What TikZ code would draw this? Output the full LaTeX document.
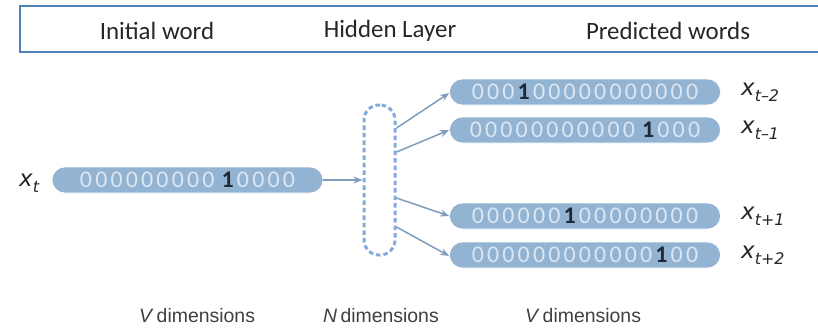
\documentclass[tikz,border=0pt]{standalone}
\usepackage{fontspec}
\setmainfont{Carlito}
\newfontfamily\labfont{Liberation Sans}
\newfontfamily\xfont{DejaVu Sans}
\usetikzlibrary{arrows.meta}
\definecolor{hdrline}{HTML}{4F81BD}
\definecolor{pillfill}{HTML}{93B3D3}
\definecolor{bitlight}{HTML}{DCE6F1}
\definecolor{bitdark}{HTML}{1E2A38}
\definecolor{arrcol}{HTML}{7F9DBB}
\definecolor{hidcol}{HTML}{82ABDB}
\definecolor{txtdark}{HTML}{262626}
\definecolor{txtgray}{HTML}{404040}
\newlength\bitw \setlength\bitw{15.3bp}
\makeatletter
\def\bitsrun#1{\ifx#1\@nil\else\bit@one#1\expandafter\bitsrun\fi}
\def\bit@one#1{\if#1s\hspace{4bp}\else\makebox[\bitw]{\if#11\color{bitdark}\bfseries\else\color{bitlight}\fi#1}\fi}
\newcommand\bits[1]{\bitsrun#1\@nil}
\makeatother
\newcommand\xlab[1]{{\xfont\itshape\fontsize{23}{23}\selectfont x}\raisebox{-5.5bp}{\xfont\itshape\fontsize{16}{16}\selectfont #1}}
\begin{document}
\begin{tikzpicture}[x=1bp,y=-1bp,
  pill/.style={fill=pillfill,draw=white,line width=0.6bp,rounded corners=13bp,minimum width=271bp,minimum height=26bp,inner sep=0pt,font=\fontsize{24}{24}\selectfont},
  hid/.style={draw=hidcol,line width=3bp,dash pattern=on 4.5bp off 3bp,rounded corners=15bp,minimum width=31bp,minimum height=150bp,inner sep=0pt},
  arr/.style={draw=arrcol,line width=1.5bp,-{Stealth[length=9bp,width=7bp]}},
  hdr/.style={font=\fontsize{25}{25}\selectfont,text=txtdark},
  dim/.style={font=\labfont\fontsize{19.5}{19.5}\selectfont,text=txtgray},
  xl/.style={anchor=west,text=txtdark,inner sep=0pt}]
\useasboundingbox (0,0) rectangle (818,327);
\clip (0,0) rectangle (818,327);
% header
\draw[hdrline,line width=2.4bp] (830,6) -- (20,6) -- (20,52) -- (830,52);
\node[hdr] (h1) at (157,31) {Initial word};
\node[hdr] (h2) at (390,31) {Hidden Layer};
\node[hdr] (h3) at (668,31) {Predicted words};
% input
\node[pill] (in) at (187.5,180) {\bits{000000000s10000}};
\node[xl] (xt) at (19,183) {\xlab{t}};
% hidden
\node[hid] (h) at (379.5,180) {};
% outputs
\node[pill] (o1) at (585,92) {\bits{000100000000000}};
\node[pill] (o2) at (585,130) {\bits{00000000000s1000}};
\node[pill] (o3) at (585,216) {\bits{000000100000000}};
\node[pill] (o4) at (585,255) {\bits{000000000000100}};
\node[xl] (l1) at (741,92) {\xlab{t–2}};
\node[xl] (l2) at (741,130) {\xlab{t–1}};
\node[xl] (l3) at (741,216) {\xlab{t+1}};
\node[xl] (l4) at (741,255) {\xlab{t+2}};
% arrows
\draw[arr] (in.east) -- (h.west);
\draw[arr] ([yshift=52bp]h.east) -- ([yshift=-1bp]o1.west);
\draw[arr] ([yshift=28bp]h.east) -- (o2.west);
\draw[arr] ([yshift=-18bp]h.east) -- (o3.west);
\draw[arr] ([yshift=-47bp]h.east) -- ([yshift=-1bp]o4.west);
% bottom labels
\node[dim] (d1) at (197,316) {\textit{V}\,dimensions};
\node[dim] (d2) at (381,316) {\textit{N}\,dimensions};
\node[dim] (d3) at (583,316) {\textit{V}\,dimensions};
\end{tikzpicture}
\end{document}
